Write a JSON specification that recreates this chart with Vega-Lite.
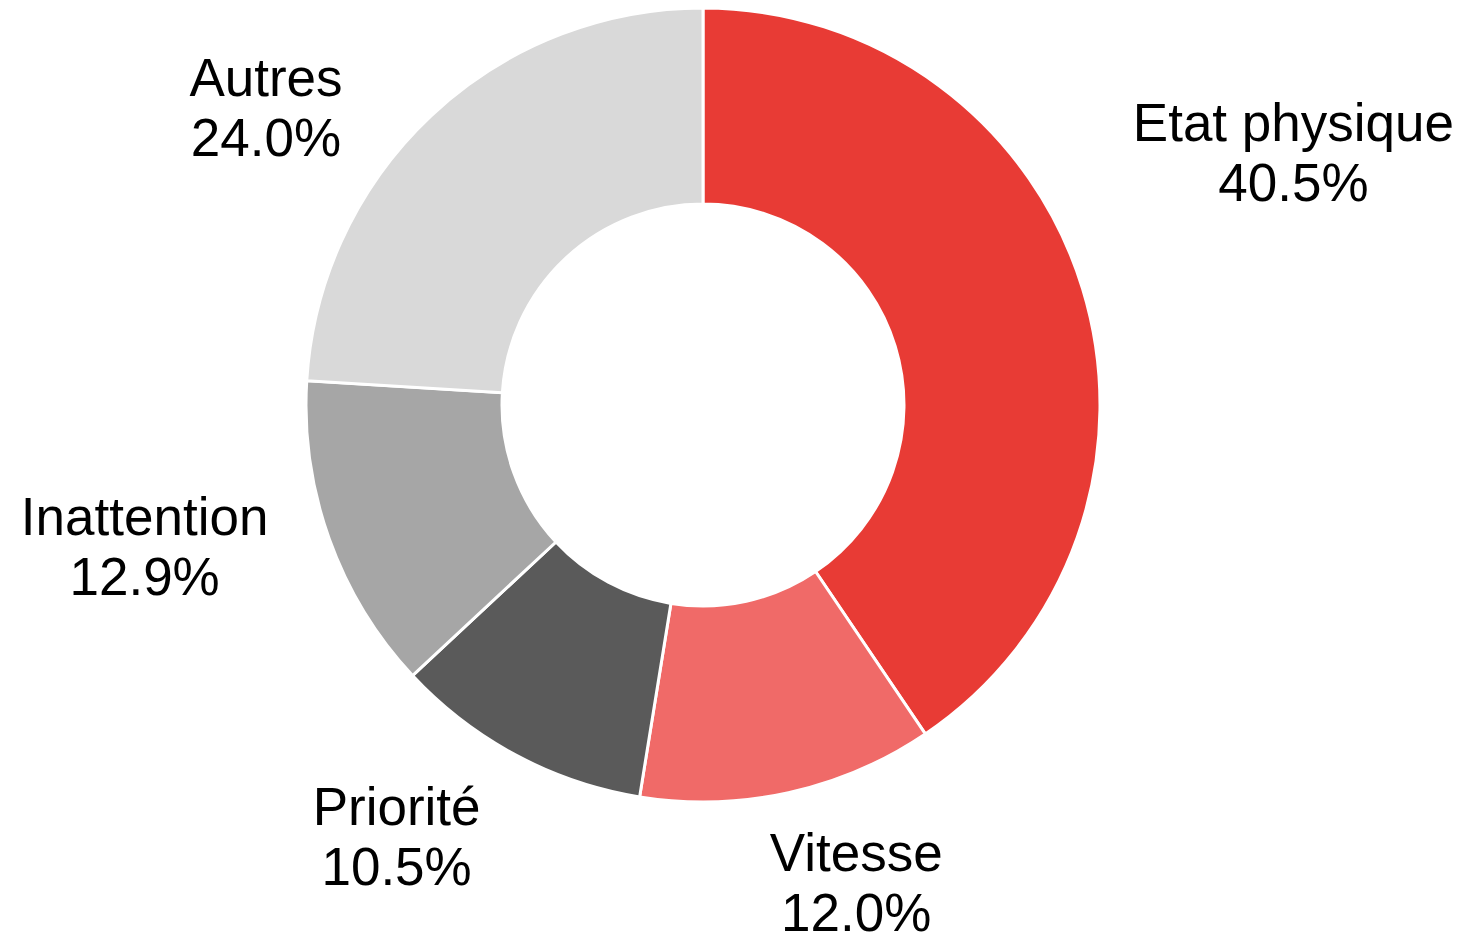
{
  "$schema": "https://vega.github.io/schema/vega-lite/v6.json",
  "width": 1406,
  "height": 810,
  "padding": 0,
  "autosize": {"type": "pad"},
  "background": "white",
  "config": {"view": {"stroke": null}, "text": {"font": "Liberation Sans", "fontSize": 53, "lineHeight": 60, "color": "black"}},
  "data": {"values": [
    {"cause": "Etat physique", "part": 0.405},
    {"cause": "Vitesse", "part": 0.12},
    {"cause": "Priorité", "part": 0.105},
    {"cause": "Inattention", "part": 0.129},
    {"cause": "Autres", "part": 0.24}
  ]},
  "transform": [
    {"window": [{"op": "row_number", "as": "rang"}]},
    {"stack": "part", "groupby": [], "sort": [{"field": "rang", "order": "ascending"}], "as": ["t0", "t1"]},
    {"calculate": "(datum.t0 + datum.t1) / 2", "as": "tmid"},
    {"calculate": "[datum.cause, format(datum.part, '.1%')]", "as": "label"}
  ],
  "layer": [
    {
      "mark": {"type": "arc", "radius": 397, "innerRadius": 201, "stroke": "white", "strokeWidth": 3},
      "encoding": {
        "theta": {"field": "t0", "type": "quantitative", "scale": {"domain": [0, 0.999]}},
        "theta2": {"field": "t1"},
        "color": {"field": "cause", "type": "nominal", "legend": null,
          "scale": {"domain": ["Etat physique", "Vitesse", "Priorité", "Inattention", "Autres"],
                    "range": ["#E83B35", "#F06A68", "#5A5A5A", "#A6A6A6", "#D9D9D9"]}}
      }
    },
    {
      "transform": [{"filter": "datum.cause === 'Etat physique'"}],
      "mark": {"type": "text", "radius": 470, "dx": 141, "dy": -142},
      "encoding": {"theta": {"field": "tmid", "type": "quantitative"}, "text": {"field": "label"}}
    },
    {
      "transform": [{"filter": "datum.cause === 'Vitesse'"}],
      "mark": {"type": "text", "radius": 470, "dx": 52, "dy": -9},
      "encoding": {"theta": {"field": "tmid", "type": "quantitative"}, "text": {"field": "label"}}
    },
    {
      "transform": [{"filter": "datum.cause === 'Priorité'"}],
      "mark": {"type": "text", "radius": 470, "dx": -85, "dy": -11},
      "encoding": {"theta": {"field": "tmid", "type": "quantitative"}, "text": {"field": "label"}}
    },
    {
      "transform": [{"filter": "datum.cause === 'Inattention'"}],
      "mark": {"type": "text", "radius": 470, "dx": -116, "dy": -45},
      "encoding": {"theta": {"field": "tmid", "type": "quantitative"}, "text": {"field": "label"}}
    },
    {
      "transform": [{"filter": "datum.cause === 'Autres'"}],
      "mark": {"type": "text", "radius": 470, "dx": -115, "dy": 17},
      "encoding": {"theta": {"field": "tmid", "type": "quantitative"}, "text": {"field": "label"}}
    }
  ]
}
